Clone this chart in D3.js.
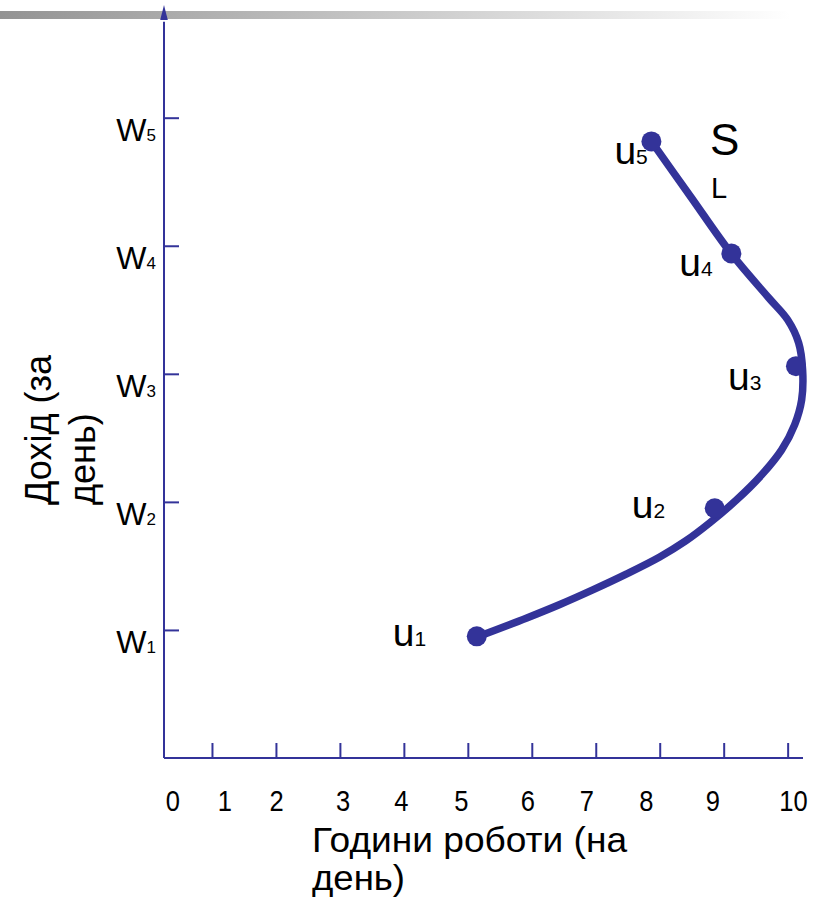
<!DOCTYPE html>
<html>
<head>
<meta charset="utf-8">
<script src="https://cdn.jsdelivr.net/npm/d3@7"></script>
<style>
  html, body { margin: 0; padding: 0; background: #fff; }
  svg { display: block; font-family: Arial, "Liberation Sans", sans-serif; }
</style>
</head>
<body>
<svg id="chart" width="821" height="901"></svg>
<script>
// ---- data ----
const xTickValues = [1, 2, 3, 4, 5, 6, 7, 8, 9, 10];
const xTickLabels = ["0", "1", "2", "3", "4", "5", "6", "7", "8", "9", "10"];
const xTickLabelPos = [0.39, 1.20, 2.01, 3.05, 3.96, 4.90, 5.94, 6.86, 7.79, 8.83, 10.09];
const yTickValues = [1, 2, 3, 4, 5];
const yTickLabels = ["1", "2", "3", "4", "5"];
const pointNames = ["1", "2", "3", "4", "5"];
const pointHours = [5.14, 8.86, 10.13, 9.12, 7.87];
const pointIncome = [0.95, 1.95, 3.06, 3.94, 4.815];
const curveHours = [7.870, 8.484, 9.120, 9.703, 10.000, 10.172, 10.234, 10.219, 10.109, 9.906, 9.594, 9.203, 8.781, 8.406, 8.000, 7.484, 6.953, 6.438, 5.922, 5.141];
const curveIncome = [4.815, 4.383, 3.938, 3.594, 3.422, 3.242, 3.031, 2.797, 2.602, 2.406, 2.211, 2.016, 1.836, 1.695, 1.570, 1.438, 1.313, 1.199, 1.094, 0.945];
const xTitleLines = ["Години роботи (на", "день)"];
const yTitleLines = ["Дохід (за", "день)"];

// ---- layout ----
const svg = d3.select("#chart");
const navy = "#333399";
const x = d3.scaleLinear().domain([0.25, 10.24]).range([164, 803]);
const y = d3.scaleLinear().domain([0, 5.88]).range([758, 5]);

// gradient bar at top
const defs = svg.append("defs");
const grad = defs.append("linearGradient").attr("id", "topbar").attr("x1", "0").attr("x2", "1").attr("y1", "0").attr("y2", "0");
grad.append("stop").attr("offset", "0").attr("stop-color", "#939393");
grad.append("stop").attr("offset", "1").attr("stop-color", "#ffffff");
svg.append("rect").attr("x", 0).attr("y", 11).attr("width", 790).attr("height", 8).attr("fill", "url(#topbar)");

// axes
const xAxis = d3.axisBottom(x).tickValues(xTickValues).tickSize(-15).tickFormat("");
const gx = svg.append("g").attr("transform", `translate(0,${y(0)})`).call(xAxis);
gx.select(".domain").attr("d", `M${x(0.25)},0H${x(10.24)}`).attr("stroke", navy).attr("stroke-width", 2);
gx.selectAll(".tick line").attr("stroke", navy).attr("stroke-width", 2);

const yAxis = d3.axisLeft(y).tickValues(yTickValues).tickSize(-15).tickFormat("");
const gy = svg.append("g").attr("transform", `translate(${x(0.25)},0)`).call(yAxis);
gy.select(".domain").attr("d", `M0,${y(0)}V${y(5.75)}`).attr("stroke", navy).attr("stroke-width", 2);
gy.selectAll(".tick line").attr("stroke", navy).attr("stroke-width", 2);

// arrow head
const ax = x(0.25), at = y(5.88);
svg.append("path").attr("d", `M${ax},${at} L${ax - 3.8},${at + 15} L${ax + 3.8},${at + 15} Z`).attr("fill", navy);

// x tick labels
svg.append("g").selectAll("text").data(xTickLabels).join("text")
  .attr("x", (d, i) => x(xTickLabelPos[i]))
  .attr("y", 811)
  .attr("text-anchor", "middle")
  .attr("font-size", 29)
  .attr("fill", "#000")
  .attr("transform", (d, i) => { const cx = x(xTickLabelPos[i]); return `translate(${cx},0) scale(0.88,1) translate(${-cx},0)`; })
  .text(d => d);

// y tick labels W_n
const yl = svg.append("g").selectAll("text").data(yTickValues).join("text")
  .attr("x", 156)
  .attr("y", d => y(d) + 23)
  .attr("text-anchor", "end")
  .attr("fill", "#000");
yl.append("tspan").attr("font-size", 32).text("W");
yl.append("tspan").attr("font-size", 17).text((d, i) => yTickLabels[i]);

// curve
const pts = curveHours.map((h, i) => [h, curveIncome[i]]);
svg.append("path")
  .attr("d", d3.line().x(d => x(d[0])).y(d => y(d[1])).curve(d3.curveCatmullRom.alpha(0.5))(pts))
  .attr("fill", "none").attr("stroke", navy).attr("stroke-width", 7.5).attr("stroke-linecap", "round");

// points
svg.append("g").selectAll("circle").data(pointHours).join("circle")
  .attr("cx", d => x(d)).attr("cy", (d, i) => y(pointIncome[i])).attr("r", 10).attr("fill", navy);

// point labels
const labelOffsets = [[-84, 10], [-83, 10], [-68, 24], [-52, 23], [-37, 23]];
const pl = svg.append("g").selectAll("text").data(pointHours).join("text")
  .attr("x", (d, i) => x(d) + labelOffsets[i][0])
  .attr("y", (d, i) => y(pointIncome[i]) + labelOffsets[i][1])
  .attr("fill", "#000");
pl.append("tspan").attr("font-size", 39).text("u");
pl.append("tspan").attr("font-size", 21).text((d, i) => pointNames[i]);

// S / L
svg.append("text").attr("x", 710).attr("y", 155).attr("font-size", 44).attr("fill", "#000").text("S");
svg.append("text").attr("x", 711).attr("y", 198).attr("font-size", 29).attr("fill", "#000").text("L");

// y axis title
svg.append("g").selectAll("text").data(yTitleLines).join("text")
  .attr("transform", (d, i) => `translate(${i === 0 ? 51 : 95},505) rotate(-90)`)
  .attr("font-size", 36)
  .attr("fill", "#000")
  .text(d => d);

// x axis title
svg.append("g").selectAll("text").data(xTitleLines).join("text")
  .attr("x", 312)
  .attr("y", (d, i) => i === 0 ? 852 : 890)
  .attr("font-size", 35)
  .attr("fill", "#000")
  .attr("textLength", (d, i) => i === 0 ? 315 : 93)
  .attr("lengthAdjust", "spacingAndGlyphs")
  .text(d => d);
</script>
</body>
</html>
